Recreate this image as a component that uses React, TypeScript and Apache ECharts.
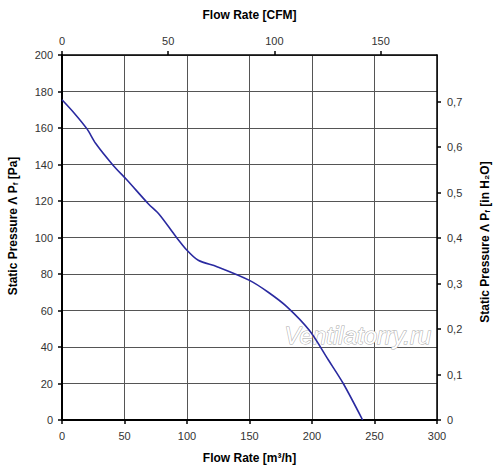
import React, { useEffect, useRef } from "react";
import * as echarts from "echarts";

const flowM3h = [0, 10, 20, 27, 41, 52, 69, 78, 90, 100, 109, 124, 150, 165, 180, 198, 213, 225, 240.5];
const pressurePa = [175.5, 168, 159.5, 151.5, 139.5, 131.5, 118.5, 112.5, 101.5, 93, 87.5, 84, 76.5, 70, 62, 49, 33, 20, 0];
const cfmTicks = [0, 50, 100, 150];
const inH2OTicks = [0, 0.1, 0.2, 0.3, 0.4, 0.5, 0.6, 0.7];

const M3H_PER_CFM = 1.699;
const PA_PER_INH2O = 249.09;
const X_MAX = 300;
const Y_MAX = 200;

export default function App() {
  const ref = useRef<HTMLDivElement>(null);
  useEffect(() => {
    if (!ref.current) return;
    const chart = echarts.init(ref.current, undefined, { renderer: "svg", width: 500, height: 473 });
    const font = "Liberation Sans, Arial, sans-serif";
    const labelStyle = { color: "#333", fontSize: 11, fontFamily: font };
    const nameStyle = { color: "#000", fontSize: 12, fontWeight: "bold" as const, fontFamily: font };
    const subRich = {
      s: { fontSize: 8, fontWeight: "bold" as const, fontFamily: font, fill: "#000", verticalAlign: "bottom" as const, padding: [4, 0, 0, 0] },
      n: { fontSize: 12, fontWeight: "bold" as const, fontFamily: font, fill: "#000" },
    };
    chart.setOption({
      animation: false,
      backgroundColor: "#fff",
      grid: { left: 62, right: 63, top: 55, bottom: 53, containLabel: false, outerBoundsMode: "none" },
      xAxis: [
        {
          type: "value",
          position: "bottom",
          min: 0,
          max: X_MAX,
          interval: 50,
          axisLine: { show: true, onZero: false, lineStyle: { color: "#000", width: 2 } },
          axisTick: { show: true, inside: false, length: 4, lineStyle: { color: "#000", width: 1.5 } },
          axisLabel: { ...labelStyle, margin: 10 },
          splitLine: { show: true, lineStyle: { color: "#555", width: 1 } },
          name: "Flow Rate [m³/h]",
          nameLocation: "middle",
          nameGap: 32,
          nameTextStyle: nameStyle,
        },
        {
          type: "value",
          position: "top",
          min: 0,
          max: X_MAX / M3H_PER_CFM,
          axisLine: { show: true, onZero: false, lineStyle: { color: "#000", width: 1.5 } },
          axisTick: { show: true, inside: false, length: 4, customValues: cfmTicks, lineStyle: { color: "#000", width: 1.5 } },
          axisLabel: { ...labelStyle, margin: 9, customValues: cfmTicks },
          splitLine: { show: false },
          name: "Flow Rate [CFM]",
          nameLocation: "middle",
          nameGap: 34,
          nameTextStyle: nameStyle,
        },
      ],
      yAxis: [
        {
          type: "value",
          position: "left",
          min: 0,
          max: Y_MAX,
          interval: 20,
          axisLine: { show: true, onZero: false, lineStyle: { color: "#000", width: 2 } },
          axisTick: { show: true, inside: false, length: 4, lineStyle: { color: "#000", width: 1.5 } },
          axisLabel: { ...labelStyle, margin: 9 },
          splitLine: { show: true, lineStyle: { color: "#555", width: 1 } },
        },
        {
          type: "value",
          position: "right",
          min: 0,
          max: Y_MAX / PA_PER_INH2O,
          axisLine: { show: true, onZero: false, lineStyle: { color: "#000", width: 1.5 } },
          axisTick: { show: true, inside: false, length: 4, customValues: inH2OTicks, lineStyle: { color: "#000", width: 1.5 } },
          axisLabel: {
            ...labelStyle,
            margin: 10,
            customValues: inH2OTicks,
            formatter: (v: number) => (Math.round(v * 10) / 10).toString().replace(".", ","),
          },
          splitLine: { show: false },
        },
      ],
      graphic: [
        {
          type: "text",
          x: 13,
          y: 226,
          rotation: Math.PI / 2,
          style: {
            text: "{n|Static Pressure Λ P}{s|f}{n| [Pa]}",
            align: "center",
            verticalAlign: "middle",
            rich: subRich,
          },
        },
        {
          type: "text",
          x: 485,
          y: 242,
          rotation: Math.PI / 2,
          style: {
            text: "{n|Static Pressure Λ P}{s|f}{n| [in H₂O]}",
            align: "center",
            verticalAlign: "middle",
            rich: subRich,
          },
        },
        {
          type: "text",
          left: 284,
          top: 323,
          z: 1,
          style: {
            text: "Ventilatorry.ru",
            fontFamily: font,
            fontStyle: "italic",
            fontSize: 24,
            fill: "#fff",
            stroke: "#a8a8a8",
            lineWidth: 1,
            shadowColor: "rgba(0,0,0,0.25)",
            shadowBlur: 2,
            shadowOffsetX: 1,
            shadowOffsetY: 1,
          },
        },
      ],
      series: [
        {
          type: "line",
          xAxisIndex: 0,
          yAxisIndex: 0,
          data: flowM3h.map((x, i) => [x, pressurePa[i]]),
          smooth: 0.3,
          showSymbol: false,
          symbol: "none",
          z: 5,
          lineStyle: { color: "#2a2aa0", width: 1.6 },
        },
      ],
    });
    return () => chart.dispose();
  }, []);
  return <div ref={ref} style={{ width: 500, height: 473, position: "fixed", left: 0, top: 0 }} />;
}
